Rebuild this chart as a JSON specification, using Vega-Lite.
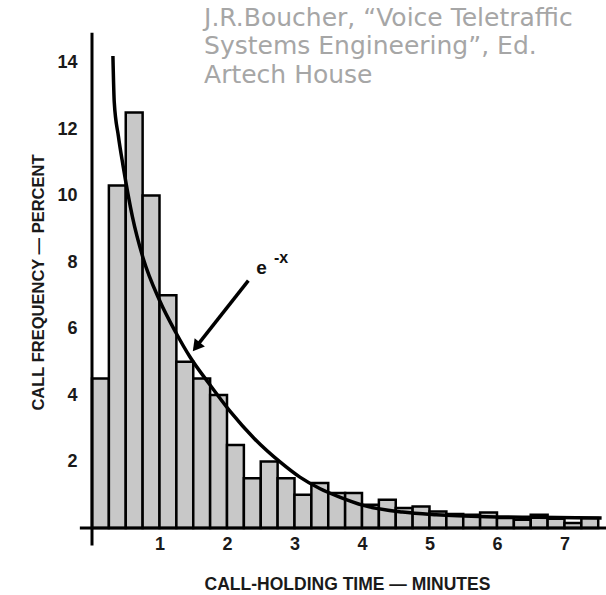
{
  "$schema": "https://vega.github.io/schema/vega-lite/v6.json",
  "width": 514,
  "height": 496,
  "autosize": {"type": "none"},
  "padding": {"left": 92, "top": 32, "right": 0, "bottom": 67},
  "background": "white",
  "config": {"view": {"stroke": null}},
  "datasets": {
    "bars": [
      {"start": 0.00, "stop": 0.25, "pct": 4.5},
      {"start": 0.25, "stop": 0.50, "pct": 10.3},
      {"start": 0.50, "stop": 0.75, "pct": 12.5},
      {"start": 0.75, "stop": 1.00, "pct": 10.0},
      {"start": 1.00, "stop": 1.25, "pct": 7.0},
      {"start": 1.25, "stop": 1.50, "pct": 5.0},
      {"start": 1.50, "stop": 1.75, "pct": 4.5},
      {"start": 1.75, "stop": 2.00, "pct": 4.0},
      {"start": 2.00, "stop": 2.25, "pct": 2.5},
      {"start": 2.25, "stop": 2.50, "pct": 1.5},
      {"start": 2.50, "stop": 2.75, "pct": 2.0},
      {"start": 2.75, "stop": 3.00, "pct": 1.5},
      {"start": 3.00, "stop": 3.25, "pct": 1.0},
      {"start": 3.25, "stop": 3.50, "pct": 1.35},
      {"start": 3.50, "stop": 3.75, "pct": 1.05},
      {"start": 3.75, "stop": 4.00, "pct": 1.05},
      {"start": 4.00, "stop": 4.25, "pct": 0.7},
      {"start": 4.25, "stop": 4.50, "pct": 0.85},
      {"start": 4.50, "stop": 4.75, "pct": 0.6},
      {"start": 4.75, "stop": 5.00, "pct": 0.65},
      {"start": 5.00, "stop": 5.25, "pct": 0.5},
      {"start": 5.25, "stop": 5.50, "pct": 0.42},
      {"start": 5.50, "stop": 5.75, "pct": 0.4},
      {"start": 5.75, "stop": 6.00, "pct": 0.47},
      {"start": 6.00, "stop": 6.25, "pct": 0.3},
      {"start": 6.25, "stop": 6.50, "pct": 0.25},
      {"start": 6.50, "stop": 6.75, "pct": 0.4},
      {"start": 6.75, "stop": 7.00, "pct": 0.28},
      {"start": 7.00, "stop": 7.25, "pct": 0.15},
      {"start": 7.25, "stop": 7.50, "pct": 0.3}
    ],
    "curve": [
      {"t": 0.31, "v": 14.2},
      {"t": 0.33, "v": 12.8},
      {"t": 0.39, "v": 11.8},
      {"t": 0.46, "v": 10.9},
      {"t": 0.60, "v": 9.35},
      {"t": 0.76, "v": 8.1},
      {"t": 1.00, "v": 6.85},
      {"t": 1.25, "v": 5.85},
      {"t": 1.45, "v": 5.15},
      {"t": 1.75, "v": 4.3},
      {"t": 2.05, "v": 3.5},
      {"t": 2.40, "v": 2.7},
      {"t": 2.79, "v": 1.98},
      {"t": 3.08, "v": 1.53},
      {"t": 3.38, "v": 1.18},
      {"t": 3.67, "v": 0.93},
      {"t": 4.02, "v": 0.68},
      {"t": 4.60, "v": 0.48},
      {"t": 5.10, "v": 0.4},
      {"t": 5.85, "v": 0.34},
      {"t": 6.60, "v": 0.32},
      {"t": 7.55, "v": 0.3}
    ],
    "axislines": [
      {"x": 0, "x2": 0, "y": -0.53, "y2": 14.9},
      {"x": -0.18, "x2": 7.615, "y": 0, "y2": 0}
    ],
    "arrow": [
      {"x": 2.316, "y": 7.44, "x2": 1.53, "y2": 5.42}
    ],
    "arrowhead": [
      {"x": 1.545, "y": 5.45}
    ],
    "notes": [
      {"label": "e", "x": 2.511, "y": 7.82, "size": 19},
      {"label": "-x", "x": 2.80, "y": 8.12, "size": 16}
    ],
    "source": [
      {"line": "J.R.Boucher, “Voice Teletraffic", "x": 1.66, "y": 15.11},
      {"line": "Systems Engineering”, Ed.", "x": 1.66, "y": 14.27},
      {"line": "Artech House", "x": 1.66, "y": 13.4}
    ]
  },
  "layer": [
    {
      "data": {"name": "bars"},
      "mark": {"type": "rect", "fill": "#c8c8c8", "stroke": "#000000", "strokeWidth": 2.5},
      "encoding": {
        "x": {
          "field": "start", "type": "quantitative",
          "scale": {"domain": [0, 7.615], "nice": false, "zero": false},
          "axis": {
            "values": [1, 2, 3, 4, 5, 6, 7],
            "format": "d",
            "domain": false, "ticks": false, "grid": false,
            "labelPadding": 7,
            "labelFont": "Liberation Sans", "labelFontWeight": "bold", "labelFontSize": 18, "labelColor": "#1a1a1a",
            "title": "CALL-HOLDING TIME — MINUTES",
            "titleFont": "Liberation Sans", "titleFontWeight": "bold", "titleFontSize": 17.5, "titleColor": "#1a1a1a",
            "titleX": 255, "titleY": 56, "titleAlign": "center", "titleBaseline": "middle"
          }
        },
        "x2": {"field": "stop"},
        "y": {
          "field": "pct", "type": "quantitative",
          "scale": {"domain": [0, 14.92], "nice": false, "zero": false},
          "axis": {
            "values": [2, 4, 6, 8, 10, 12, 14],
            "format": "d",
            "domain": false, "ticks": false, "grid": false,
            "labelPadding": 15,
            "labelFont": "Liberation Sans", "labelFontWeight": "bold", "labelFontSize": 18, "labelColor": "#1a1a1a",
            "title": "CALL FREQUENCY — PERCENT",
            "titleFont": "Liberation Sans", "titleFontWeight": "bold", "titleFontSize": 16.5, "titleColor": "#1a1a1a",
            "titleAngle": -90, "titleX": -54, "titleY": 250, "titleAlign": "center", "titleBaseline": "middle"
          }
        },
        "y2": {"datum": 0}
      }
    },
    {
      "data": {"name": "axislines"},
      "mark": {"type": "rule", "color": "#000000", "strokeWidth": 3},
      "encoding": {
        "x": {"field": "x", "type": "quantitative"},
        "x2": {"field": "x2"},
        "y": {"field": "y", "type": "quantitative"},
        "y2": {"field": "y2"}
      }
    },
    {
      "data": {"name": "curve"},
      "mark": {"type": "line", "color": "#000000", "strokeWidth": 3.5, "interpolate": "monotone"},
      "encoding": {
        "x": {"field": "t", "type": "quantitative"},
        "y": {"field": "v", "type": "quantitative"}
      }
    },
    {
      "data": {"name": "arrow"},
      "mark": {"type": "rule", "color": "#000000", "strokeWidth": 3.5},
      "encoding": {
        "x": {"field": "x", "type": "quantitative"},
        "x2": {"field": "x2"},
        "y": {"field": "y", "type": "quantitative"},
        "y2": {"field": "y2"}
      }
    },
    {
      "data": {"name": "arrowhead"},
      "mark": {"type": "point", "shape": "triangle-up", "filled": true, "color": "#000000", "opacity": 1, "size": 170, "angle": 218},
      "encoding": {
        "x": {"field": "x", "type": "quantitative"},
        "y": {"field": "y", "type": "quantitative"}
      }
    },
    {
      "data": {"name": "notes"},
      "mark": {"type": "text", "font": "Liberation Sans", "fontWeight": "bold", "color": "#111111", "align": "center", "baseline": "middle"},
      "encoding": {
        "x": {"field": "x", "type": "quantitative"},
        "y": {"field": "y", "type": "quantitative"},
        "text": {"field": "label"},
        "size": {"field": "size", "type": "quantitative", "scale": null}
      }
    },
    {
      "data": {"name": "source"},
      "mark": {"type": "text", "font": "DejaVu Sans", "fontSize": 25, "color": "#a6a6a6", "align": "left", "baseline": "alphabetic"},
      "encoding": {
        "x": {"field": "x", "type": "quantitative"},
        "y": {"field": "y", "type": "quantitative"},
        "text": {"field": "line"}
      }
    }
  ]
}
